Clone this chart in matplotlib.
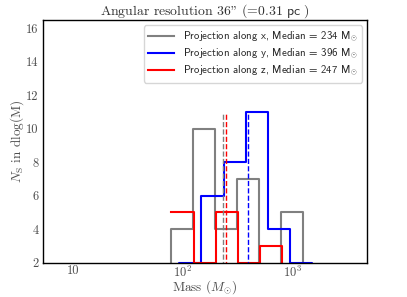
import numpy as np
import matplotlib
matplotlib.use('Agg')
import matplotlib.pyplot as plt
from matplotlib.ticker import FixedLocator, NullLocator

plt.rcParams['font.family'] = 'serif'
plt.rcParams['font.serif'] = ['cmr10']
plt.rcParams['mathtext.fontset'] = 'cm'
plt.rcParams['axes.formatter.use_mathtext'] = True
plt.rcParams['axes.unicode_minus'] = False

# bin edges (Msun) and counts per projection
x_edges = [77.6, 123.6, 196.8, 313.3, 497.7, 792.5, 1262.0]
x_counts = [4, 10, 4, 7, 0, 5]
y_edges = [92.9, 148.3, 237.1, 376.7, 602.6, 957.2, 1535.0]
y_counts = [2, 6, 8, 11, 4, 2]
z_edges = [77.6, 125.9, 200.4, 320.6, 509.3, 814.7]
z_counts = [5, 2, 5, 2, 3]

medians = [234, 396, 247]
colors = ['grey', 'b', 'r']
labels = ['Projection along x, Median = %d M$_{\\odot}$' % medians[0],
          'Projection along y, Median = %d M$_{\\odot}$' % medians[1],
          'Projection along z, Median = %d M$_{\\odot}$' % medians[2]]

txt_col = '0.3'

fig = plt.figure(figsize=(4.07, 2.97), dpi=100)
ax = fig.add_axes([0.105, 0.116, 0.7975, 0.8167])

# x and y with the left edge rising from zero
for e, c, col, lab in [(x_edges, x_counts, colors[0], labels[0]),
                       (y_edges, y_counts, colors[1], labels[1])]:
    ax.step(np.r_[e[0], e], np.r_[0, c, 0], where='post', color=col, lw=1.5, label=lab)
# z starts directly at its first bin height
ax.step(z_edges, np.r_[z_counts, 0], where='post', color=colors[2], lw=1.5, label=labels[2])

top = max(max(x_counts), max(y_counts), max(z_counts))
for m, col in zip(medians, colors):
    ax.vlines(m, 0, top, colors=col, linestyles='dashed', lw=1)

ax.set_xscale('log')
ax.set_xlim(5.26, 4880)
ax.set_ylim(2, 1.5 * top)
ax.xaxis.set_major_locator(FixedLocator([10, 100, 1000]))
ax.xaxis.set_minor_locator(NullLocator())
ax.set_xticklabels(['10', r'$10^2$', r'$10^3$'])
ax.set_yticks([2, 4, 6, 8, 10, 12, 14, 16])
ax.set_yticklabels(['2', '4', '6', '8', '10', '12', '14', '16'])
ax.tick_params(axis='both', length=0, labelsize=9, labelcolor=txt_col)
ax.tick_params(axis='x', pad=1.5)
ax.tick_params(axis='y', pad=3)
for s in ax.spines.values():
    s.set_linewidth(1.0)

ax.set_xlabel(r'Mass ($M_{\odot}$)', fontsize=9.5, labelpad=-1, color=txt_col)
ax.set_ylabel(r'$N_{\rm S}$ in dlog(M)', fontsize=9.5, labelpad=0, color=txt_col)
ax.set_title(r'Angular resolution $\mathsf{36}$" (=$\mathsf{0.31\ pc}$ )', fontsize=9.9, pad=3,
             color='0.2')

leg = ax.legend(loc='upper right', prop={'family': 'cmss10', 'size': 7.8}, handlelength=2.4,
                labelspacing=0.25, borderpad=0.4)
for t in leg.get_texts():
    t.set_color('0.15')

fig.savefig('out.png', dpi=100)
